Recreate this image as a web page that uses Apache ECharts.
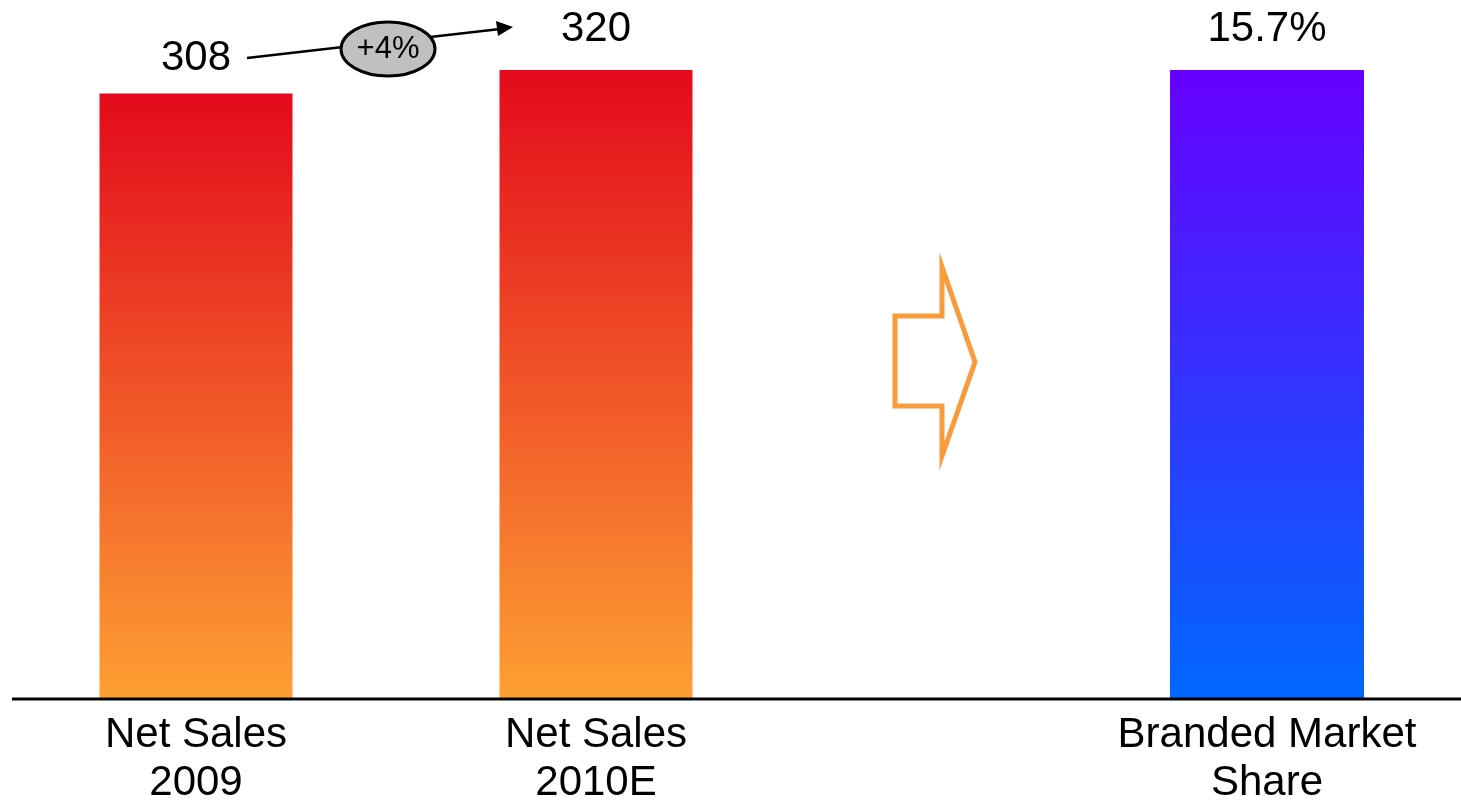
<!DOCTYPE html>
<html>
<head>
<meta charset="utf-8">
<script src="https://cdn.jsdelivr.net/npm/echarts@6/dist/echarts.min.js"></script>
<style>
  html, body { margin: 0; padding: 0; background: #fff; }
  #chart { width: 1461px; height: 806px; }
</style>
</head>
<body>
<div id="chart"></div>
<script>
// Data
const salesCategories = ['Net Sales\n2009', 'Net Sales\n2010E'];
const salesValues = [308, 320];
const shareCategories = ['Branded Market\nShare'];
const shareValues = [15.7];
const growthLabel = '+4%';

const font = '"Liberation Sans", Arial, sans-serif';

const chart = echarts.init(document.getElementById('chart'));

const salesGradient = new echarts.graphic.LinearGradient(0, 0, 0, 1, [
  { offset: 0, color: '#e30a1c' },
  { offset: 1, color: '#fda033' },
]);
const shareGradient = new echarts.graphic.LinearGradient(0, 0, 0, 1, [
  { offset: 0, color: '#6600ff' },
  { offset: 1, color: '#0068ff' },
]);

const catAxis = (gridIndex, data) => ({
  type: 'category',
  gridIndex,
  data,
  axisLine: { show: false },
  axisTick: { show: false },
  axisLabel: {
    color: '#000',
    fontSize: 42,
    fontFamily: font,
    lineHeight: 48,
    margin: 12,
  },
});

const valAxis = (gridIndex, max) => ({
  type: 'value',
  gridIndex,
  min: 0,
  max,
  show: false,
  splitLine: { show: false },
});

const option = {
  backgroundColor: '#fff',
  animation: false,
  grid: [
    { left: -4, width: 800, top: 70, bottom: 107, outerBoundsMode: 'none' },
    { left: 1067, width: 400, top: 70, bottom: 107, outerBoundsMode: 'none' },
  ],
  xAxis: [catAxis(0, salesCategories), catAxis(1, shareCategories)],
  yAxis: [valAxis(0, 320), valAxis(1, 15.7)],
  series: [
    {
      type: 'bar',
      xAxisIndex: 0,
      yAxisIndex: 0,
      barWidth: 193,
      itemStyle: { color: salesGradient },
      data: salesValues.map((v, i) => ({
        value: v,
        label: { distance: i === 0 ? 14 : 20 },
      })),
      label: {
        show: true,
        position: 'top',
        color: '#000',
        fontSize: 42,
        fontFamily: font,
      },
    },
    {
      type: 'bar',
      xAxisIndex: 1,
      yAxisIndex: 1,
      barWidth: 194,
      itemStyle: { color: shareGradient },
      data: shareValues,
      label: {
        show: true,
        position: 'top',
        distance: 20,
        color: '#000',
        fontSize: 42,
        fontFamily: font,
        formatter: p => p.value + '%',
      },
    },
  ],
  graphic: [
    // baseline
    {
      type: 'line',
      shape: { x1: 12, y1: 699, x2: 1461, y2: 699 },
      style: { stroke: '#000', lineWidth: 3 },
      z: 10,
    },
    // growth arrow
    {
      type: 'line',
      shape: { x1: 247, y1: 58, x2: 500, y2: 29 },
      style: { stroke: '#000', lineWidth: 2.5 },
    },
    {
      type: 'polygon',
      shape: { points: [[513, 27], [496, 21], [498, 36]] },
      style: { fill: '#000' },
    },
    {
      type: 'ellipse',
      shape: { cx: 388, cy: 49, rx: 47, ry: 27 },
      style: { fill: '#c0c0c0', stroke: '#000', lineWidth: 3 },
      z: 5,
    },
    {
      type: 'text',
      x: 388,
      y: 49,
      z: 6,
      style: {
        text: growthLabel,
        fill: '#000',
        font: '31px ' + font,
        align: 'center',
        verticalAlign: 'middle',
      },
    },
    // block arrow
    {
      type: 'polygon',
      shape: {
        points: [[895, 316], [942, 316], [942, 267], [975, 362], [942, 456], [942, 406], [895, 406]],
      },
      style: { fill: 'none', stroke: '#f99b3a', lineWidth: 5, lineJoin: 'miter' },
    },
  ],
};

chart.setOption(option);
window.addEventListener('resize', () => chart.resize());
</script>
</body>
</html>
